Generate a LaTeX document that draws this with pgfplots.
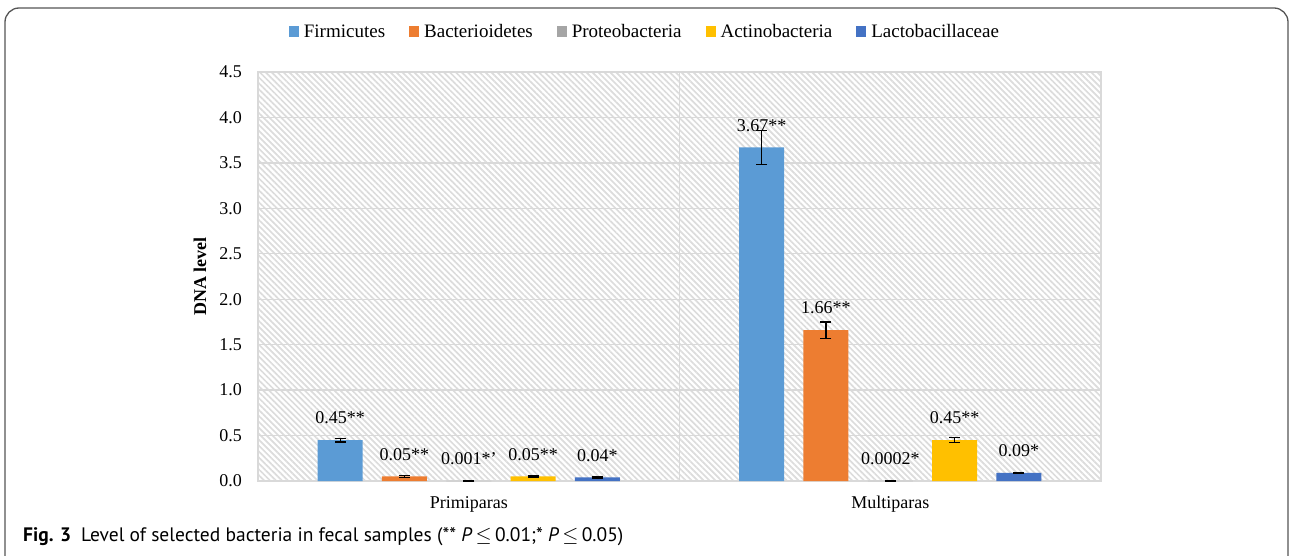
\documentclass[border=0pt]{standalone}
\usepackage{fontspec}
\setmainfont{Liberation Serif}
\newfontfamily\capfont{PT Sans}
\usepackage{pgfplots}
\usepackage{pgfplotstable}
\pgfplotsset{compat=1.18}
\usetikzlibrary{patterns.meta}

\definecolor{cFirm}{HTML}{5B9BD5}
\definecolor{cBact}{HTML}{ED7D31}
\definecolor{cProt}{HTML}{A5A5A5}
\definecolor{cActi}{HTML}{FFC000}
\definecolor{cLact}{HTML}{4472C4}
\definecolor{gridgray}{HTML}{D9D9D9}
\definecolor{hatchgray}{HTML}{DCDCDC}
\definecolor{framegray}{HTML}{555555}

\pgfplotstableread{
x y e lab
0 0.45 0.02 0.45**
1 3.67 0.19 3.67**
}\firm
\pgfplotstableread{
x y e lab
0 0.05 0.008 0.05**
1 1.66 0.09 1.66**
}\bact
\pgfplotstableread{
x y e lab
0 0.001 0.003 0.001*'
1 0.0002 0.003 0.0002*
}\prot
\pgfplotstableread{
x y e lab
0 0.05 0.006 0.05**
1 0.45 0.025 0.45**
}\acti
\pgfplotstableread{
x y e lab
0 0.04 0.006 0.04*
1 0.09 0.006 0.09*
}\lact

\begin{document}
\begin{tikzpicture}
\useasboundingbox (0pt,0pt) rectangle (1290pt,555pt);
\clip (0pt,0pt) rectangle (1290pt,555pt);
\draw[framegray, line width=1.3pt, rounded corners=14pt] (5pt,-30pt) rectangle (1288pt,547pt);
\begin{axis}[
  at={(258pt,74pt)}, anchor=south west,
  scale only axis, width=843pt, height=409pt,
  ybar=19.3pt, bar width=45pt,
  xmin=-0.5, xmax=1.5, ymin=0, ymax=4.5,
  xtick={0,1}, xticklabels={Primiparas,Multiparas},
  extra x ticks={0.5}, extra x tick labels={},
  extra x tick style={grid=major},
  ytick={0,0.5,1,1.5,2,2.5,3,3.5,4,4.5},
  ymajorgrids,
  major grid style={draw=gridgray, line width=1.3pt},
  axis line style={draw=gridgray, line width=1.3pt},
  major tick length=0,
  axis background/.style={pattern={Lines[angle=-45,distance=4.2pt,line width=1.7pt]}, pattern color=hatchgray},
  tick label style={font=\fontsize{18}{21}\selectfont},
  /pgf/number format/assume math mode=true,
  yticklabel style={/pgf/number format/.cd, fixed, fixed zerofill, precision=1, /tikz/.cd, inner sep=0pt, anchor=east, xshift=-16pt},
  xticklabel style={inner sep=0pt, anchor=north, yshift=-15pt},
  ylabel={\textbf{DNA level}},
  ylabel style={at={(axis description cs:-0.0688,0.5)}, anchor=center, rotate=0, font=\fontsize{18}{21}\selectfont},
  legend columns=5,
  legend style={at={(0.459,1.098)}, anchor=center, draw=none, fill=none,
    font=\fontsize{19}{22}\selectfont,
    /tikz/every even column/.append style={column sep=22pt},
    /tikz/every odd column/.append style={column sep=3pt}},
  legend image code/.code={\fill[#1] (0pt,-5pt) rectangle (10pt,6pt);},
  point meta=explicit symbolic,
  nodes near coords,
  every node near coord/.append style={black, anchor=center, yshift=22pt, font=\fontsize{18}{21}\selectfont},
  error bars/y dir=both, error bars/y explicit,
  error bars/error bar style={black, line width=1.2pt, solid},
  error bars/error mark options={black, rotate=90, mark size=5.5pt, line width=1.2pt, solid},
]
\addplot[fill=cFirm, draw=none] table[x=x,y=y,y error=e,meta=lab]{\firm};
\addplot[fill=cBact, draw=none] table[x=x,y=y,y error=e,meta=lab]{\bact};
\addplot[fill=cProt, draw=none] table[x=x,y=y,y error=e,meta=lab]{\prot};
\addplot[fill=cActi, draw=none] table[x=x,y=y,y error=e,meta=lab]{\acti};
\addplot[fill=cLact, draw=none] table[x=x,y=y,y error=e,meta=lab]{\lact};
\legend{Firmicutes,Bacterioidetes,Proteobacteria,Actinobacteria,Lactobacillaceae}
\end{axis}
\node[anchor=base west, inner sep=0pt] at (23pt,14pt) {\capfont\fontsize{19.5}{23}\selectfont\textbf{Fig. 3}\hspace{10pt}Level of selected bacteria in fecal samples (** \textit{P}\,$\leq$\,0.01;* \textit{P}\,$\leq$\,0.05)};
\end{tikzpicture}
\end{document}
